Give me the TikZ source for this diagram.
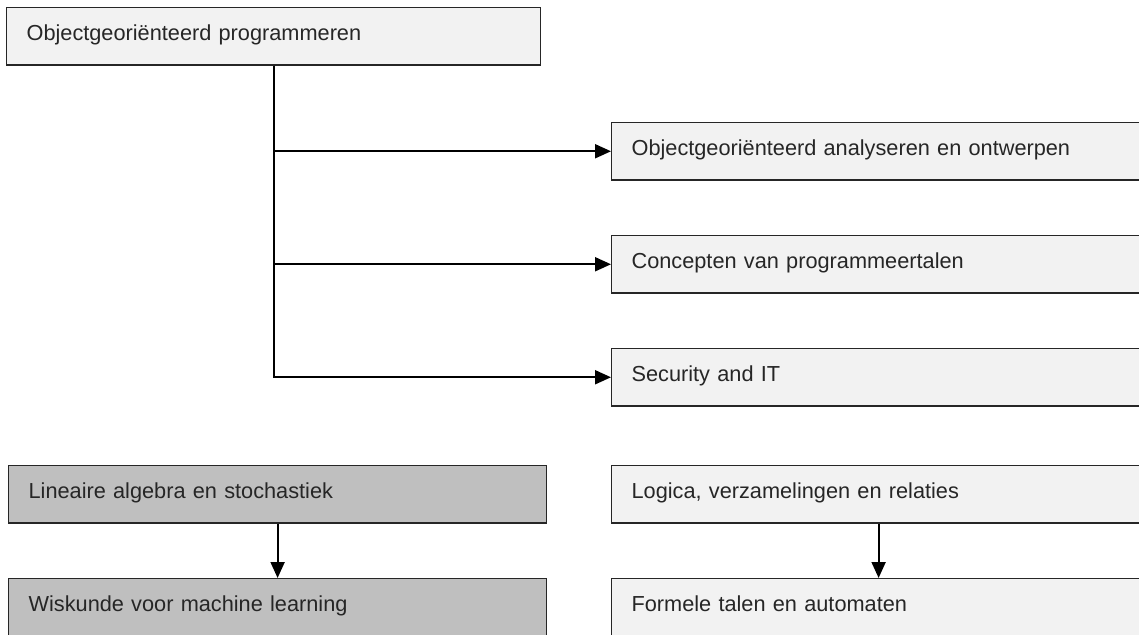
\documentclass[tikz,border=0pt]{standalone}
\usepackage{fontspec}
\setmainfont{Liberation Sans}
\usepackage{xcolor}
\usepackage{tikz}
\usetikzlibrary{arrows.meta,positioning}
\definecolor{lightbox}{HTML}{F2F2F2}
\definecolor{darkbox}{HTML}{BFBFBF}
\definecolor{edge}{HTML}{262626}
\tikzstyle{course}+=[draw=edge,line width=0.9pt,fill=lightbox,anchor=north west,
  inner xsep=15pt,inner ysep=0pt,text width=370.5pt,minimum height=43pt,align=left,
  text height=12pt,text depth=6pt,font=\fontsize{16.3}{19.6}\selectfont,text=black!85]
\tikzstyle{math}+=[fill=darkbox,text width=373.5pt]
\tikzstyle{link}+=[line width=1.5pt,-{Triangle[length=12pt,width=10.5pt]}]

\begin{document}
\begin{tikzpicture}[x=0.75pt,y=-0.75pt]
    \useasboundingbox (0,0) rectangle (1139,635);
    \begin{scope}
    \clip (0,0) rectangle (1139,635);
    \node[course] (oop) at (6,7) {Objectgeoriënteerd programmeren};
    \node[course] (ooa) at (611,122) {Objectgeoriënteerd analyseren en ontwerpen};
    \node[course] (cvp) at (611,235) {Concepten van programmeertalen};
    \node[course] (sec) at (611,348) {Security and IT};
    \node[course,math] (las) at (8,465) {Lineaire algebra en stochastiek};
    \node[course,math] (wml) at (8,578) {Wiskunde voor machine learning};
    \node[course] (lvr) at (611,465) {Logica, verzamelingen en relaties};
    \node[course] (fta) at (611,578) {Formele talen en automaten};
    \draw[link] (oop.south) |- (ooa.west);
    \draw[link] (oop.south) |- (cvp.west);
    \draw[link] (oop.south) |- (sec.west);
    \draw[link] (las) -- (wml);
    \draw[link] (lvr) -- (fta);
    \end{scope}
  \end{tikzpicture}
\end{document}
